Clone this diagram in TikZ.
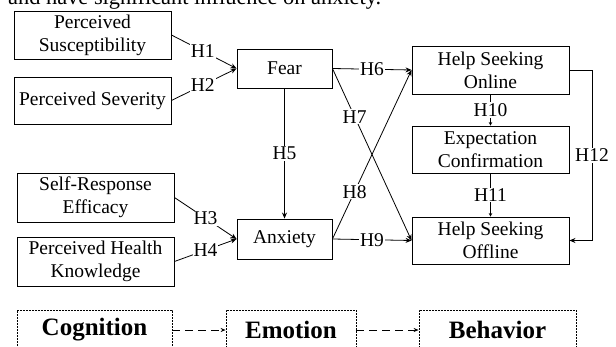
\documentclass[tikz,border=0pt]{standalone}
\usepackage{fontspec}
\setmainfont{Liberation Serif}
\usetikzlibrary{arrows.meta}
\begin{document}
\begin{tikzpicture}[x=1pt,y=-1pt,
  box/.style={draw, line width=0.9pt, align=center, inner sep=1pt,
    font=\fontsize{19.5}{23}\selectfont},
  stage/.style={draw, line width=0.8pt, dash pattern=on 2pt off 1pt,
    minimum width=155pt, minimum height=40pt, inner sep=0pt,
    font=\fontsize{25}{28}\selectfont\bfseries},
  hyp/.style={fill=white, inner sep=1pt, font=\fontsize{19.5}{23}\selectfont},
  link/.style={line width=0.8pt, -{Stealth[length=6pt,width=5pt]}},
  smalllink/.style={line width=0.8pt, -{Stealth[length=3.5pt,width=3.5pt]}},
  stagelink/.style={line width=0.8pt, dash pattern=on 8pt off 5pt, -{Stealth[length=5pt,width=4pt]}}]
\useasboundingbox (0,0) rectangle (616,347);
\clip (0,0) rectangle (616,347);
\fill[white] (0,0) rectangle (616,347);

% cropped line of text at the top
\node[anchor=base west, inner sep=0pt, font=\fontsize{22.4}{26}\selectfont] (top) at (8,5) {and have significant influence on anxiety.};

% left column
\node[box, minimum width=157pt, minimum height=48pt] (ps) at (92.5,35) {Perceived\\Susceptibility};
\node[box, minimum width=157pt, minimum height=47pt] (sev) at (92.5,100.5) {Perceived Severity};
\node[box, minimum width=157pt, minimum height=49pt] (sre) at (95.5,197.5) {Self-Response\\Efficacy};
\node[box, minimum width=157pt, minimum height=49pt] (phk) at (95.5,261.5) {Perceived Health\\Knowledge};

% middle column
\node[box, minimum width=95pt, minimum height=39pt] (fear) at (284.5,68.5) {Fear};
\node[box, minimum width=95pt, minimum height=40pt] (anx) at (284.5,239) {Anxiety};

% right column
\node[box, minimum width=157pt, minimum height=48pt] (hso) at (490.5,70) {Help Seeking\\Online};
\node[box, minimum width=157pt, minimum height=47pt] (ec) at (490.5,149.5) {Expectation\\Confirmation};
\node[box, minimum width=157pt, minimum height=47pt] (hsoff) at (490.5,240.5) {Help Seeking\\Offline};

% hypotheses
\draw[link] (ps.east) -- node[hyp, pos=0.48] {H1} (fear.west);
\draw[link] (sev.east) -- node[hyp, pos=0.48] {H2} (fear.west);
\draw[link] (sre.east) -- node[hyp, pos=0.5] {H3} (anx.west);
\draw[link] (phk.east) -- node[hyp, pos=0.5] {H4} (anx.west);
\draw[link] (fear.south) -- node[hyp] {H5} (anx.north);
\draw[link] (fear.east) -- node[hyp] {H6} (hso.west);
\draw[link] (fear.east) -- node[hyp, pos=0.28] {H7} (hsoff.west);
\draw[link] (anx.east) -- node[hyp, pos=0.28] {H8} (hso.west);
\draw[link] (anx.east) -- node[hyp] {H9} (hsoff.west);
\draw[smalllink] (hso.south) -- node[hyp] {H10} (ec.north);
\draw[smalllink] (ec.south) -- node[hyp] {H11} (hsoff.north);
\coordinate (r1) at (592,70);
\coordinate (r2) at (592,240.5);
\draw[link] (hso.east) -- (r1) -- node[hyp] {H12} (r2) -- (hsoff.east);

% stages
\node[stage] (cog) at (94.5,330) {Cognition};
\node[stage, minimum width=130pt] (emo) at (291,330) {Emotion};
\node[stage, minimum width=157pt] (beh) at (497.5,330) {Behavior};
\draw[stagelink] (cog.east) -- (emo.west);
\draw[stagelink] (emo.east) -- (beh.west);
\end{tikzpicture}
\end{document}
